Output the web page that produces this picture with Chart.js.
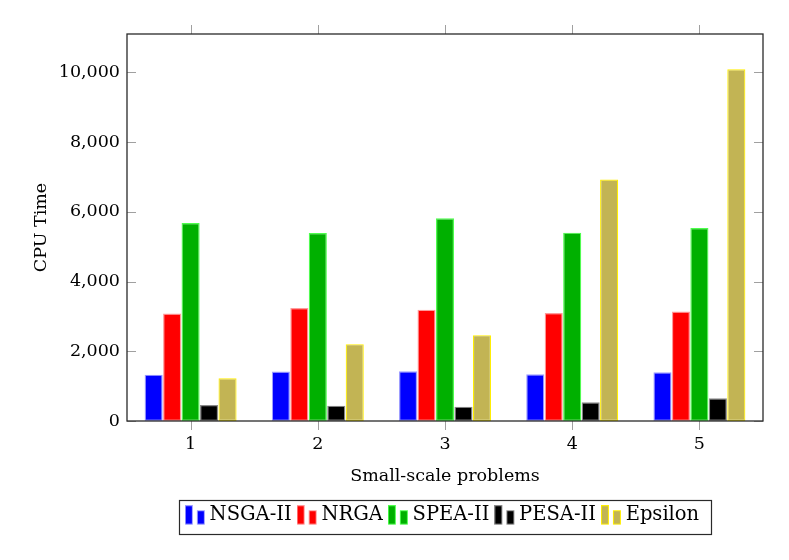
<!DOCTYPE html>
<html>
<head>
<meta charset="utf-8">
<title>CPU Time - Small-scale problems</title>
<script src="https://cdn.jsdelivr.net/npm/chart.js@4.4.1/dist/chart.umd.min.js"></script>
<style>
  html, body { margin: 0; padding: 0; background: #ffffff; }
  #wrap { width: 789px; height: 560px; }
</style>
</head>
<body>
<div id="wrap"><canvas id="cpuChart" width="789" height="560"></canvas></div>
<script>
// --- data ---
const categories = ['1', '2', '3', '4', '5'];
const nsga = [1330, 1417, 1428, 1342, 1399];
const nrga = [3083, 3238, 3190, 3095, 3141];
const spea = [5681, 5393, 5813, 5402, 5537];
const pesa = [460, 440, 411, 537, 652];
const epsilon = [1227, 2204, 2463, 6925, 10086];
const yTicks = [0, 2000, 4000, 6000, 8000, 10000];

const FONT = "'DejaVu Serif', 'Liberation Serif', serif";
const AXIS_SIZE = 17.5;
const LEGEND_SIZE = 19.5;

// two-bar icon like the pgfplots ybar legend
function legendIcon(fill, border) {
    const c = document.createElement('canvas');
    c.width = 21; c.height = 20;
    const g = c.getContext('2d');
    g.fillStyle = fill;
    g.strokeStyle = border;
    g.lineWidth = 1;
    g.fillRect(0.5, 0.5, 7, 18.5); g.strokeRect(0.5, 0.5, 7, 18.5);
    g.fillRect(12.5, 5.5, 7, 13.5); g.strokeRect(12.5, 5.5, 7, 13.5);
    return c;
}

const series = [
    { label: 'NSGA-II', data: nsga, fill: '#0000ff', border: '#9d9dff' },
    { label: 'NRGA', data: nrga, fill: '#ff0000', border: '#ff9a9a' },
    { label: 'SPEA-II', data: spea, fill: '#00b000', border: '#4dff4d' },
    { label: 'PESA-II', data: pesa, fill: '#000000', border: '#8a8a8a' },
    { label: 'Epsilon', data: epsilon, fill: '#c2b454', border: '#ffee00' }
];
const icons = series.map(s => legendIcon(s.fill, s.border));

// frame + pgfplots style tick marks
const frameTicks = {
    id: 'frameTicks',
    afterDatasetsDraw(chart) {
        const { ctx, chartArea: a, scales: { x, y } } = chart;
        ctx.save();
        ctx.strokeStyle = '#a0a0a0';
        ctx.lineWidth = 1;
        ctx.beginPath();
        x.ticks.forEach((t, i) => {
            const px = Math.round(x.getPixelForTick(i)) + 0.5;
            ctx.moveTo(px, a.top); ctx.lineTo(px, a.top - 9);
            ctx.moveTo(px, a.bottom); ctx.lineTo(px, a.bottom + 9);
        });
        y.ticks.forEach(t => {
            const py = Math.round(y.getPixelForValue(t.value)) + 0.5;
            ctx.moveTo(a.left, py); ctx.lineTo(a.left + 9, py);
            ctx.moveTo(a.right, py); ctx.lineTo(a.right - 9, py);
        });
        ctx.stroke();
        ctx.strokeStyle = '#2a2a2a';
        ctx.lineWidth = 1.3;
        ctx.strokeRect(a.left, a.top, a.right - a.left, a.bottom - a.top);
        ctx.restore();
    }
};

// box round the legend
const legendFrame = {
    id: 'legendFrame',
    afterDraw(chart) {
        const boxes = chart.legend && chart.legend.legendHitBoxes;
        if (!boxes || !boxes.length) return;
        const left = Math.min(...boxes.map(b => b.left)) - 12;
        const right = Math.max(...boxes.map(b => b.left + b.width)) + 12;
        const top = boxes[0].top - 6;
        const bottom = boxes[0].top + boxes[0].height + 8;
        const ctx = chart.ctx;
        ctx.save();
        ctx.strokeStyle = '#2a2a2a';
        ctx.lineWidth = 1.2;
        ctx.strokeRect(Math.round(left) + 0.5, Math.round(top) + 0.5, Math.round(right - left), Math.round(bottom - top));
        ctx.restore();
    }
};

document.addEventListener('DOMContentLoaded', () => {
    Chart.defaults.color = '#000000';
    Chart.defaults.font.family = FONT;
    Chart.defaults.font.size = AXIS_SIZE;

    const ctx = document.getElementById('cpuChart').getContext('2d');
    new Chart(ctx, {
        type: 'bar',
        data: {
            labels: categories,
            datasets: series.map(s => ({
                label: s.label,
                data: s.data,
                backgroundColor: s.fill,
                borderColor: s.border,
                borderWidth: 1.2,
                borderSkipped: false,
                categoryPercentage: 0.726,
                barPercentage: 0.98
            }))
        },
        options: {
            responsive: false,
            animation: false,
            layout: { padding: { top: 34, right: 26, left: 0, bottom: 25 } },
            scales: {
                x: {
                    grid: { display: false, drawTicks: false },
                    border: { display: false },
                    ticks: { padding: 13, font: { size: AXIS_SIZE, family: FONT } },
                    title: {
                        display: true,
                        text: 'Small-scale problems',
                        font: { size: AXIS_SIZE, family: FONT },
                        padding: { top: 0, bottom: 8 }
                    },
                    afterFit(scale) { scale.height = 73.5; }
                },
                y: {
                    min: 0,
                    max: 11100,
                    grid: { display: false, drawTicks: false },
                    border: { display: false },
                    ticks: {
                        padding: 7,
                        font: { size: AXIS_SIZE, family: FONT },
                        callback: v => v.toLocaleString('en-US')
                    },
                    afterBuildTicks(scale) { scale.ticks = yTicks.map(v => ({ value: v })); },
                    title: {
                        display: true,
                        text: 'CPU Time',
                        font: { size: AXIS_SIZE, family: FONT },
                        padding: { top: 31, bottom: 0 }
                    },
                    afterFit(scale) { scale.width = 127; }
                }
            },
            plugins: {
                tooltip: { enabled: false },
                legend: {
                    position: 'bottom',
                    fullSize: false,
                    labels: {
                        usePointStyle: true,
                        pointStyleWidth: 9,
                        padding: 11,
                        color: '#000000',
                        font: { size: LEGEND_SIZE, family: FONT },
                        generateLabels(chart) {
                            return Chart.defaults.plugins.legend.labels.generateLabels(chart)
                                .map((l, i) => ({ ...l, pointStyle: icons[i], lineWidth: 0 }));
                        }
                    }
                }
            }
        },
        plugins: [frameTicks, legendFrame]
    });
});
</script>
</body>
</html>
